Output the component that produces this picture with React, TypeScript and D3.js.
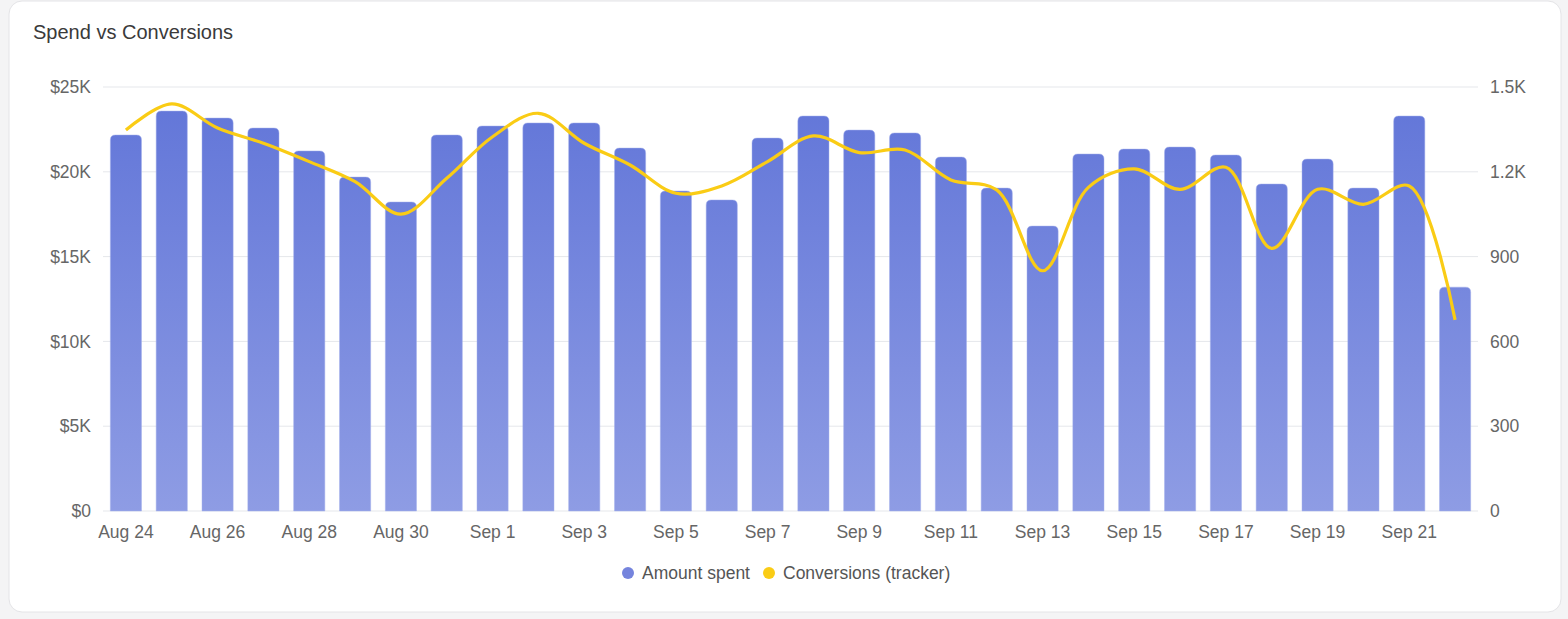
import React from "react";
import * as d3 from "d3";

const dates = [
  "Aug 24", "Aug 25", "Aug 26", "Aug 27", "Aug 28", "Aug 29", "Aug 30", "Aug 31",
  "Sep 1", "Sep 2", "Sep 3", "Sep 4", "Sep 5", "Sep 6", "Sep 7", "Sep 8", "Sep 9", "Sep 10",
  "Sep 11", "Sep 12", "Sep 13", "Sep 14", "Sep 15", "Sep 16", "Sep 17", "Sep 18", "Sep 19",
  "Sep 20", "Sep 21", "Sep 22",
];

const amountSpent = [
  22170, 23580, 23170, 22580, 21230, 19690, 18220, 22170,
  22700, 22880, 22880, 21400, 18870, 18340, 21990, 23290, 22460, 22290,
  20870, 19040, 16800, 21050, 21340, 21460, 20990, 19280, 20750,
  19040, 23290, 13200,
];

const conversions = [
  1348, 1440, 1355, 1301, 1236, 1165, 1050, 1177,
  1324, 1407, 1301, 1224, 1124, 1150, 1236, 1327, 1268, 1277,
  1171, 1136, 850, 1145, 1210, 1138, 1216, 929, 1138,
  1085, 1150, 676,
];

const leftTicks = [0, 5000, 10000, 15000, 20000, 25000];
const rightTicks = [0, 300, 600, 900, 1200, 1500];
const xTickLabels = dates.filter((_, i) => i % 2 === 0);

const title = "Spend vs Conversions";
const seriesNames = ["Amount spent", "Conversions (tracker)"];

const W = 1568;
const H = 619;
const FONT = "'Liberation Sans', Arial, Helvetica, sans-serif";
const TICK = 17.5;

export default function App() {
  const plotLeft = 103;
  const plotRight = 1478;
  const plotTop = 87;
  const plotBottom = 511;

  const x = d3.scaleBand<string>().domain(dates).range([plotLeft, plotRight]).padding(0);
  const yL = d3.scaleLinear().domain([0, 25000]).range([plotBottom, plotTop]);
  const yR = d3.scaleLinear().domain([0, 1500]).range([plotBottom, plotTop]);

  const barW = x.bandwidth() * 0.68;
  const cx = (d: string) => (x(d) as number) + x.bandwidth() / 2;

  const line = d3
    .line<number>()
    .x((_, i) => cx(dates[i]))
    .y((v) => yR(v))
    .curve(d3.curveCatmullRom.alpha(0.5));

  const r = 5;
  const barPath = (xl: number, yt: number, w: number, yb: number) => {
    const rr = Math.min(r, (yb - yt) / 2);
    return `M${xl},${yb} L${xl},${yt + rr} Q${xl},${yt} ${xl + rr},${yt} L${xl + w - rr},${yt} Q${xl + w},${yt} ${xl + w},${yt + rr} L${xl + w},${yb} Z`;
  };

  return (
    <div style={{ position: "fixed", left: 0, top: 0, width: W, height: H, background: "#f4f4f5" }}>
      <svg width={W} height={H} style={{ display: "block" }} fontFamily={FONT}>
        <defs>
          <linearGradient id="barGrad" x1="0" y1={plotTop} x2="0" y2={plotBottom} gradientUnits="userSpaceOnUse">
            <stop offset="0%" stopColor="#6175d8" />
            <stop offset="100%" stopColor="#8e9ce4" />
          </linearGradient>
        </defs>
        <rect x={9} y={1} width={1552} height={611} rx={13} fill="#ffffff" stroke="#e4e4e7" strokeWidth={1} />
        <text x={33} y={39} fontSize={20} fill="#3a3a3a">{title}</text>

        {leftTicks.map((t) => (
          <line key={"g" + t} x1={plotLeft} x2={plotRight} y1={yL(t)} y2={yL(t)} stroke="#e5e7eb" strokeWidth={1} />
        ))}

        {dates.map((d, i) => {
          const xl = cx(d) - barW / 2;
          return (
            <path
              key={d}
              d={barPath(xl, yL(amountSpent[i]), barW, yL(0))}
              fill="url(#barGrad)"
              stroke="#a5b0ec"
              strokeWidth={0.8}
              strokeOpacity={0.6}
            />
          );
        })}

        <path d={line(conversions) || ""} fill="none" stroke="#facc15" strokeWidth={3.2} strokeLinecap="butt" strokeLinejoin="round" />

        {leftTicks.map((t) => (
          <text key={"l" + t} x={91} y={yL(t)} dy="0.35em" textAnchor="end" fontSize={TICK} fill="#666666">
            {t === 0 ? "$0" : `$${t / 1000}K`}
          </text>
        ))}
        {rightTicks.map((t) => (
          <text key={"r" + t} x={1490} y={yR(t)} dy="0.35em" textAnchor="start" fontSize={TICK} fill="#666666">
            {t >= 1000 ? `${d3.format(".1f")(t / 1000)}K` : `${t}`}
          </text>
        ))}
        {xTickLabels.map((d) => (
          <text key={"x" + d} x={cx(d)} y={532} dy="0.35em" textAnchor="middle" fontSize={TICK} fill="#666666">
            {d}
          </text>
        ))}

        <g>
          <circle cx={628} cy={573} r={6} fill="#7584dd" />
          <text x={642} y={573} dy="0.35em" fontSize={TICK} fill="#555555">{seriesNames[0]}</text>
          <circle cx={769} cy={573} r={6} fill="#facc15" />
          <text x={783} y={573} dy="0.35em" fontSize={TICK} fill="#555555">{seriesNames[1]}</text>
        </g>
      </svg>
    </div>
  );
}
